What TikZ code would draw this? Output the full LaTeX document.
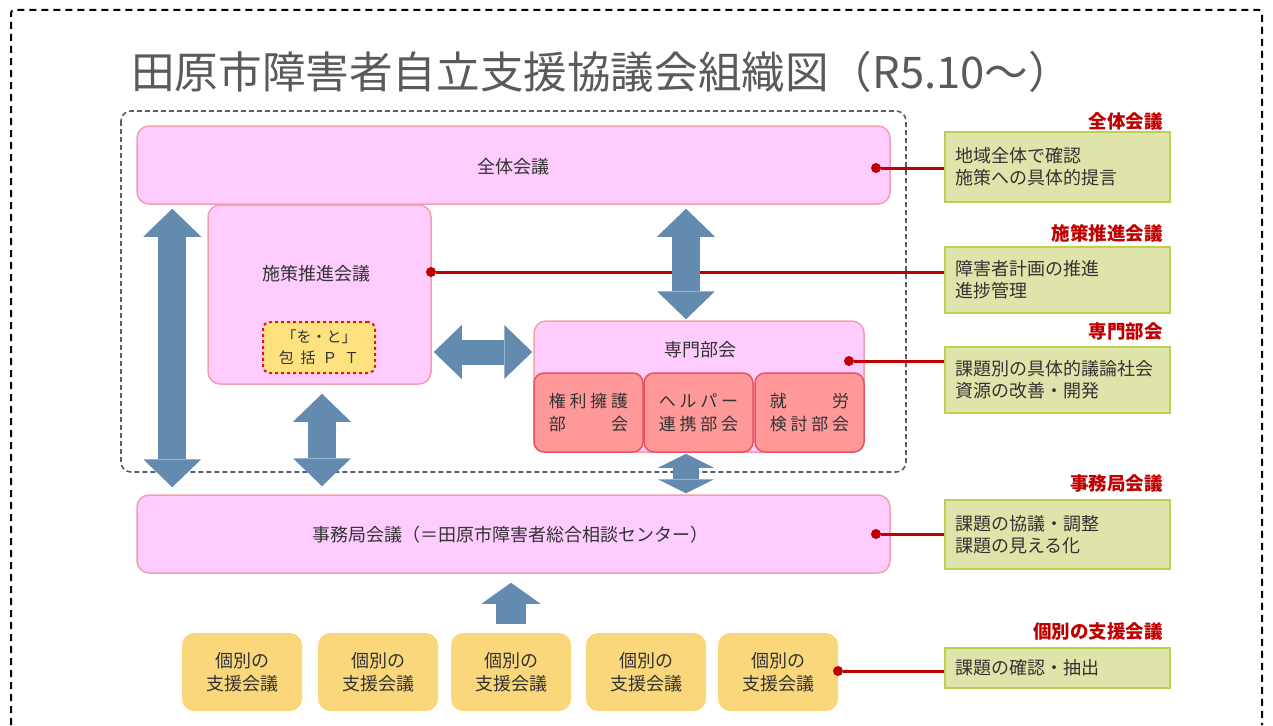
\documentclass[tikz,border=0pt]{standalone}
\usepackage{fontspec}
\setmainfont{Noto Sans CJK JP}
\newfontfamily\spacedfont[LetterSpace=22]{Noto Sans CJK JP}
\usepackage{calc}
\usetikzlibrary{arrows.meta,calc,positioning}

\definecolor{pinkfill}{RGB}{255,204,255}
\definecolor{pinkline}{RGB}{242,160,172}
\definecolor{subfill}{RGB}{255,153,153}
\definecolor{subline}{RGB}{232,84,94}
\definecolor{ptfill}{RGB}{255,226,128}
\definecolor{ptline}{RGB}{226,20,30}
\definecolor{kofill}{RGB}{250,215,122}
\definecolor{notefill}{RGB}{223,229,170}
\definecolor{noteline}{RGB}{190,208,82}
\definecolor{notered}{RGB}{192,0,0}
\definecolor{arrowblue}{RGB}{99,139,175}
\definecolor{groupline}{RGB}{88,92,112}
\definecolor{textgray}{RGB}{51,51,51}
\definecolor{titlegray}{RGB}{90,90,90}

\newcommand{\spreadpair}[3]{\makebox[\widthof{#1}][s]{#2\hfill#3}}

\tikzset{
  bigtip/.tip={Triangle[length=28pt,width=58pt,line width=0pt]},
  sidetip/.tip={Triangle[length=28pt,width=54pt,line width=0pt]},
  smalltip/.tip={Triangle[length=14pt,width=56pt,line width=0pt]},
  uptip/.tip={Triangle[length=21pt,width=59pt,line width=0pt]}
}

\begin{document}
\begin{tikzpicture}[x=1pt,y=-1pt,
  box/.style={draw=pinkline, line width=1.5pt, fill=pinkfill, rounded corners=12pt, text=textgray, font=\fontsize{18}{23}\selectfont, align=center, inner sep=0pt},
  boxtext/.style={text=textgray, font=\fontsize{18}{23}\selectfont, inner sep=0pt},
  subbox/.style={draw=subline, line width=1.5pt, fill=subfill, rounded corners=10pt, minimum width=109pt, minimum height=79pt, text=textgray, font=\spacedfont\fontsize{17}{23}\selectfont, align=center, inner sep=0pt},
  ptbox/.style={draw=ptline, dashed, line width=2pt, fill=ptfill, rounded corners=7pt, minimum width=112pt, minimum height=51pt, text=textgray, font=\fontsize{15}{21}\selectfont, align=center, inner sep=0pt},
  kobox/.style={fill=kofill, rounded corners=12pt, minimum width=120pt, minimum height=78pt, text=textgray, font=\fontsize{18}{23}\selectfont, align=center, inner sep=0pt},
  notebox/.style={draw=noteline, line width=2.5pt, fill=notefill, minimum width=225pt, text width=205pt, inner xsep=10pt, inner ysep=0pt, align=left, text=textgray, font=\fontsize{18}{22}\selectfont},
  heading/.style={anchor=east, text=notered, font=\bfseries\fontsize{18.5}{22}\selectfont, inner sep=0pt},
  redline/.style={draw=notered, line width=3pt},
  reddot/.style={circle, fill=notered, inner sep=0pt, minimum size=10pt},
  blockarrow/.style={draw=arrowblue, line width=#1}
]
\useasboundingbox (0,0) rectangle (1273,725);

% frame and title
\draw[line width=2pt, dash pattern=on 7pt off 5pt, rounded corners=3pt] (11,725) -- (11,10) -- (1262,10) -- (1262,725);
\node[anchor=west, text=titlegray, font=\fontsize{43.6}{50}\selectfont, inner sep=0pt] (title) at (131,72) {田原市障害者自立支援協議会組織図（R5.10～）};

% group of the council
\draw[groupline, line width=1.6pt, dash pattern=on 5pt off 3pt, rounded corners=10pt] (121,111) rectangle (906,472);

\node[box, minimum width=223pt, minimum height=179pt] (shisaku) at (319.5,294.5) {};
\node[boxtext] (shisakutext) at (316,274) {施策推進会議};
\node[box, minimum width=753pt, minimum height=78pt] (zentai) at (513.5,165) {};
\node[boxtext] (zentaitext) at (513,167) {全体会議};
\node[ptbox] (pt) at (319,347.5) {「を・と」\\包\hspace{0.45em}括\hspace{0.45em}Ｐ\hspace{0.45em}Ｔ};

\node[box, minimum width=330pt, minimum height=131pt] (senmon) at (699,386.5) {};
\node[boxtext] (senmontext) at (700,350) {専門部会};
\node[subbox] (kenri) at (588.5,412.5) {権利擁護\\\spreadpair{権利擁護}{部}{会}};
\node[subbox] (helper) at (698.5,412.5) {ヘルパー\\連携部会};
\node[subbox] (shuro) at (809.5,412.5) {\spreadpair{検討部会}{就}{労}\\検討部会};

\node[box, minimum width=753pt, minimum height=78pt] (jimu) at (513.5,534) {};
\node[boxtext] (jimutext) at (510,535) {事務局会議（＝田原市障害者総合相談センター）};

% individual meetings
\node[kobox] (ko1) at (242,672) {個別の\\支援会議};
\node[kobox] (ko2) at (378,672) {個別の\\支援会議};
\node[kobox] (ko3) at (511,672) {個別の\\支援会議};
\node[kobox] (ko4) at (646,672) {個別の\\支援会議};
\node[kobox] (ko5) at (778,672) {個別の\\支援会議};

% notes on the right
\node[heading] (h1) at (1163,121) {全体会議};
\node[notebox, minimum height=70pt] (note1) at (1057.5,167) {地域全体で確認\\施策への具体的提言};
\node[heading] (h2) at (1163,233) {施策推進会議};
\node[notebox, minimum height=66pt] (note2) at (1057.5,280) {障害者計画の推進\\進捗管理};
\node[heading] (h3) at (1163,331) {専門部会};
\node[notebox, minimum height=66pt] (note3) at (1057.5,380) {課題別の具体的議論社会\\資源の改善・開発};
\node[heading] (h4) at (1163,483) {事務局会議};
\node[notebox, minimum height=69pt] (note4) at (1057.5,534.5) {課題の協議・調整\\課題の見える化};
\node[heading] (h5) at (1163,631) {個別の支援会議};
\node[notebox, minimum height=40pt] (note5) at (1057.5,668) {課題の確認・抽出};

\node[reddot] (d1) at (876,168) {};
\node[reddot] (d2) at (431,272) {};
\node[reddot] (d3) at (849,361) {};
\node[reddot] (d4) at (876,534) {};
\node[reddot] (d5) at (838,671) {};
\draw[redline] (d1) -- (d1 -| note1.west);
\draw[redline] (d2) -- (d2 -| note2.west);
\draw[redline] (d3) -- (d3 -| note3.west);
\draw[redline] (d4) -- (d4 -| note4.west);
\draw[redline] (d5) -- (d5 -| note5.west);

% block arrows
\coordinate (mid) at (686,352);
\draw[blockarrow=28pt, bigtip-bigtip] ([xshift=36pt,yshift=-4pt]zentai.south west) -- ([xshift=36pt,yshift=7pt]jimu.north west);
\draw[blockarrow=28pt, bigtip-bigtip] ([xshift=2.5pt,yshift=-9pt]shisaku.south) -- ([xshift=2.5pt,yshift=8pt]shisaku.south |- jimu.north);
\draw[blockarrow=28pt, bigtip-bigtip] ([yshift=-4pt]zentai.south -| mid) -- ([yshift=1pt]senmon.north -| mid);
\draw[blockarrow=25pt, sidetip-sidetip] ([xshift=2pt]shisaku.east |- mid) -- ([xshift=-1pt]senmon.west |- mid);
\draw[blockarrow=26pt, smalltip-smalltip] ([yshift=-1pt]senmon.south -| mid) -- ([yshift=1pt]jimu.north -| mid);
\draw[blockarrow=30pt, -uptip] ([yshift=9pt]ko3.north) -- ([yshift=-9pt]ko3.north |- jimu.south);
\end{tikzpicture}
\end{document}
